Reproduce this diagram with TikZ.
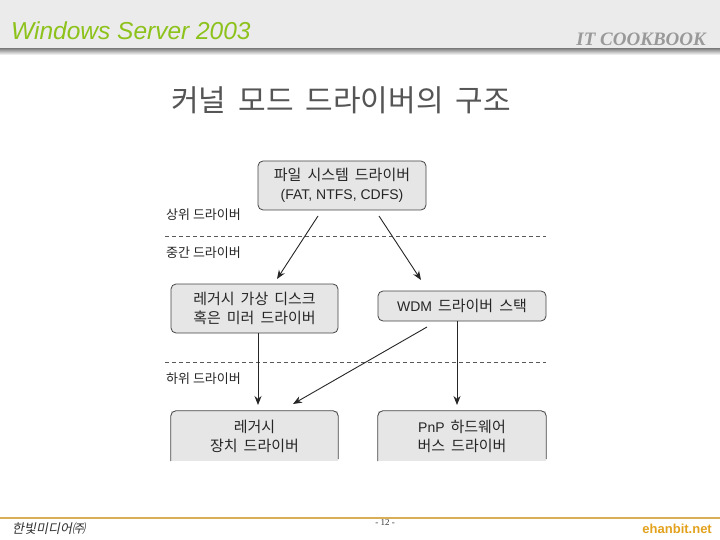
\documentclass[tikz,border=0pt]{standalone}
\usepackage{fontspec}
\setmainfont{Liberation Sans}
\newfontfamily\kr{Noto Sans CJK KR}
\newfontfamily\krsl[FakeSlant=0.2]{Noto Sans CJK KR}
\newfontfamily\serifbi{Liberation Serif}
\usetikzlibrary{arrows.meta,calc}
\definecolor{hdrbg}{HTML}{EBEBEB}
\definecolor{wsgreen}{HTML}{8CC21A}
\definecolor{boxfill}{HTML}{E6E6E6}
\definecolor{boxline}{HTML}{444444}
\definecolor{gold}{HTML}{D9AE55}
\definecolor{orangegold}{HTML}{E3A21E}
\definecolor{titlegray}{HTML}{555555}
\newcommand{\lat}[1]{{\rmfamily\fontsize{14}{19}\selectfont\spaceskip 0pt\relax #1}}
\newcommand{\boxsp}{\spaceskip 6pt\relax}
\newcommand{\titlesp}{\spaceskip 12pt\relax}
\tikzset{
  drvbox/.style={draw=boxline, fill=boxfill, rounded corners=5pt, line width=0.8pt,
    align=center, font=\kr\fontsize{15}{19}\selectfont\boxsp, text=black!85, inner sep=0pt},
  openbox/.style={fill=boxfill, align=center, font=\kr\fontsize{15}{19}\selectfont\boxsp, text=black!85, inner sep=0pt},
  lvl/.style={font=\kr\fontsize{13}{15}\selectfont, anchor=west, text=black!85, inner sep=0pt},
  sep/.style={draw=black!65, line width=0.7pt, dash pattern=on 4pt off 3pt},
  arr/.style={draw=black!85, line width=0.9pt, -{Stealth[length=9pt,width=7pt]}}
}
\begin{document}
\begin{tikzpicture}[x=1pt,y=-1pt]
\useasboundingbox (0,0) rectangle (720,540);
\fill[white] (0,0) rectangle (720,540);
% header
\fill[hdrbg] (0,0) rectangle (720,49);
\shade[top color=black!45, bottom color=white] (0,49) rectangle (720,55);
\node[anchor=base west, inner sep=0pt, text=wsgreen, font=\fontsize{24.5}{26}\selectfont\itshape] (hdr) at (11,40) {Windows Server 2003};
\node[anchor=base east, inner sep=0pt, text=black!40, font=\serifbi\fontsize{19}{22}\selectfont\bfseries\itshape] (cook) at (706,46) {IT COOKBOOK};
% title
\node[inner sep=0pt, text=titlegray, font=\kr\fontsize{30}{34}\selectfont\titlesp] (title) at (341,100) {커널 모드 드라이버의 구조};
% boxes
\node[drvbox, minimum width=168pt, minimum height=49pt] (fs) at (342,185.5) {파일 시스템 드라이버\\\lat{(FAT, NTFS, CDFS)}};
\node[drvbox, minimum width=167pt, minimum height=49pt] (lvd) at (254.5,308.5) {레거시 가상 디스크\\혹은 미러 드라이버};
\node[drvbox, minimum width=168pt, minimum height=30pt] (wdm) at (462,306) {\lat{WDM} 드라이버 스택};
\node[openbox, minimum width=167pt, minimum height=50pt] (ldd) at (254.5,436) {레거시\\장치 드라이버};
\node[openbox, minimum width=168pt, minimum height=50pt] (pnp) at (462,436) {\lat{PnP} 하드웨어\\버스 드라이버};
\draw[boxline, line width=0.8pt, rounded corners=5pt] (ldd.south west) -- (ldd.north west) -- (ldd.north east) -- ($(ldd.south east)+(0,-2)$);
\draw[boxline, line width=0.8pt, rounded corners=5pt] (pnp.south west) -- (pnp.north west) -- (pnp.north east) -- ($(pnp.south east)+(0,-2)$);
% level labels and separators
\node[lvl] (up) at (166,215) {상위 드라이버};
\node[lvl] (mid) at (166,253) {중간 드라이버};
\node[lvl] (low) at (166,379) {하위 드라이버};
\coordinate (s1a) at (165,236); \coordinate (s1b) at (546,236);
\coordinate (s2a) at (165,362); \coordinate (s2b) at (546,362);
\draw[sep] (s1a) -- (s1b);
\draw[sep] (s2a) -- (s2b);
% arrows
\coordinate (a1s) at (318,216); \coordinate (a1e) at (277,279);
\coordinate (a2s) at (379,216); \coordinate (a2e) at (421,280);
\coordinate (a3s) at (258,333); \coordinate (a3e) at (258,405);
\coordinate (a4s) at (427,327); \coordinate (a4e) at (293,404);
\coordinate (a5s) at (457,321); \coordinate (a5e) at (457,405);
\draw[arr] (a1s) -- (a1e);
\draw[arr] (a2s) -- (a2e);
\draw[arr] (lvd.south -| a3s) -- (a3e);
\draw[arr] (a4s) -- (a4e);
\draw[arr] (wdm.south -| a5s) -- (a5e);
% footer
\draw[gold, line width=2pt] (0,518) -- (720,518);
\node[anchor=base west, inner sep=0pt, font=\krsl\fontsize{13}{15}\selectfont, text=black!80] (pub) at (12,533) {한빛미디어㈜};
\node[anchor=base, inner sep=0pt, font=\serifbi\fontsize{9}{11}\selectfont, text=black!80] (pg) at (385,525) {- 12 -};
\node[anchor=base east, inner sep=0pt, font=\fontsize{13}{15}\selectfont\bfseries, text=orangegold] (web) at (712,533) {ehanbit.net};
\end{tikzpicture}
\end{document}
